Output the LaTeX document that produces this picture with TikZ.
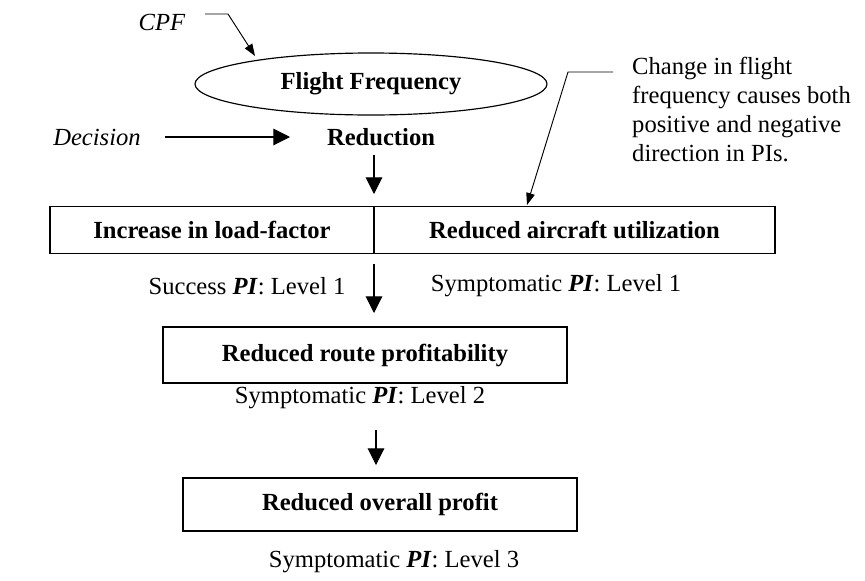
\documentclass[tikz,border=0pt]{standalone}
\usepackage{fontspec}
\setmainfont{Liberation Serif}
\usetikzlibrary{arrows.meta,shapes.geometric,positioning}

\tikzset{
  box/.style={draw, line width=1pt, inner sep=0pt, font=\bfseries},
  oval/.style={ellipse, draw, line width=1pt, inner sep=0pt, font=\bfseries},
  arr/.style={line width=0.9pt, -{Triangle[length=0.5cm, width=0.5cm]}},
  thinarr/.style={line width=0.8pt, -{Triangle[length=0.36cm, width=0.26cm]}},
  lbl/.style={inner sep=0pt}
}
\newcommand{\piit}{\textbf{\textit{PI}}}

\begin{document}
\begin{tikzpicture}[x=0.03cm, y=-0.03cm]
\fontsize{21}{24.7}\selectfont
\useasboundingbox (0,0) rectangle (865,580);
% top: flight frequency and decision
\node[lbl] (cpf) at (162,22) {\textit{CPF}};
\node[oval, minimum width=10.56cm, minimum height=1.86cm] (freq) at (371,84) {Flight Frequency};
\node[lbl] (dec) at (97,137) {\textit{Decision}};
\node[lbl, font=\bfseries] (red) at (381,137) {Reduction};
\coordinate (h1) at (205,14);
\coordinate (h2) at (228,14);
\coordinate (h3) at (255,56);
\draw[thinarr] (h1) -- (h2) -- (h3);
\coordinate (d1) at (165,137);
\coordinate (d2) at (290,137);
\draw[arr] (d1) -- (d2);
% callout
\node[lbl, anchor=north west, align=left] (note) at (632,57)
  {Change in flight\\frequency causes both\\positive and negative\\direction in PIs.};
\coordinate (n1) at (613,72);
\coordinate (n2) at (568,72);
\coordinate (n3) at (527,205);
\draw[thinarr] (n1) -- (n2) -- (n3);
% level 1
\node[box, minimum width=9.72cm, minimum height=1.4cm] (load) at (212,230) {Increase in load-factor};
\node[box, minimum width=12.03cm, minimum height=1.4cm] (util) at (574.5,230) {Reduced aircraft utilization};
\coordinate (r1) at (374,155);
\coordinate (r2) at (374,194);
\draw[arr] (r1) -- (r2);
\node[lbl] (succ) at (247,286) {Success \piit: Level 1};
\node[lbl] (sym1) at (556,286) {Symptomatic \piit: Level 1};
\coordinate (a1) at (374,264);
\coordinate (a2) at (374,313);
\draw[arr] (a1) -- (a2);
% level 2
\node[box, minimum width=12.12cm, minimum height=1.68cm] (route) at (365,355) {Reduced route profitability};
\node[lbl] (sym2) at (360,398) {Symptomatic \piit: Level 2};
\coordinate (b1) at (376,430);
\coordinate (b2) at (376,465);
\draw[arr] (b1) -- (b2);
% level 3
\node[box, minimum width=11.82cm, minimum height=1.59cm] (prof) at (380,504.5) {Reduced overall profit};
\node[lbl] (sym3) at (394,562) {Symptomatic \piit: Level 3};
\end{tikzpicture}
\end{document}
